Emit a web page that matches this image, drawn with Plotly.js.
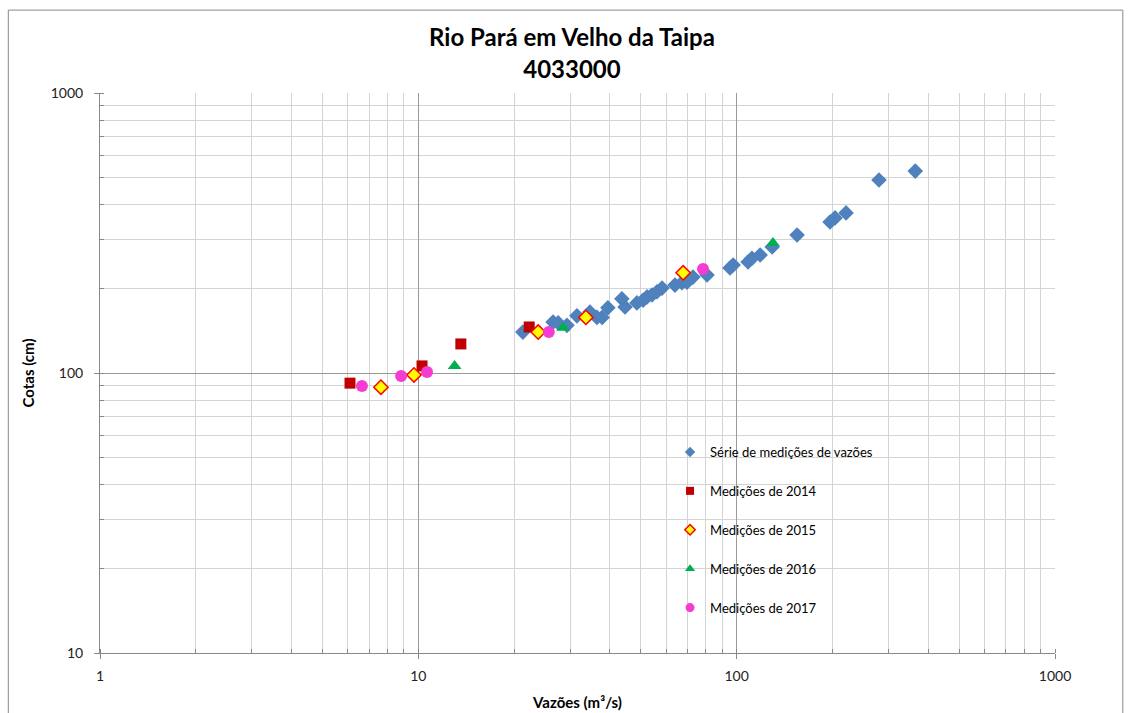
<!DOCTYPE html>
<html>
<head>
<meta charset="utf-8">
<script src="https://cdn.plot.ly/plotly-3.0.1.min.js"></script>
<style>html,body{margin:0;padding:0;background:#fff;}#chart{width:1131px;height:713px;}</style>
</head>
<body>
<div id="chart"></div>
<script>
// Série de medições de vazões
const serieQ = [21.3, 26.5, 27.5, 29.3, 31.5, 34.6, 36.4, 37.8, 39.4, 43.6, 44.6, 48.6, 50.8, 52.3, 54.2, 56.2, 58.3, 64.0, 67.3, 69.8, 72.9, 80.7, 95.3, 97.5, 108.6, 111.7, 118.5, 129.3, 154.8, 196.5, 203.7, 220.6, 280, 364];
const serieH = [140, 152, 151, 148, 160, 165, 158, 158, 171, 184, 172, 178, 182, 187, 190, 195, 201, 206, 210, 211, 220, 224, 237, 243, 249, 257, 264, 282, 311, 346, 358, 373, 489, 526];
// Medições de 2014
const q2014 = [6.10, 10.27, 13.6, 22.3];
const h2014 = [92, 106, 127, 146];
// Medições de 2015
const q2015 = [7.63, 9.69, 23.8, 33.6, 67.9];
const h2015 = [89, 98.4, 140, 158, 228];
// Medições de 2016
const q2016 = [13.0, 28.5, 130];
const h2016 = [106, 145, 291];
// Medições de 2017
const q2017 = [6.65, 8.83, 10.65, 25.7, 78.4];
const h2017 = [89.9, 97.5, 100.8, 140, 235];

const names = ['Série de medições de vazões', 'Medições de 2014', 'Medições de 2015', 'Medições de 2016', 'Medições de 2017'];

const styles = [
  {symbol: 'diamond', color: '#4F81BD'},
  {symbol: 'square', color: '#C00000'},
  {symbol: 'diamond', color: '#FFFF00', line: {color: '#FF0000', width: 1.5}},
  {symbol: 'triangle-up', color: '#00B050'},
  {symbol: 'circle', color: '#F43CD2'}
];
const sizes = [12, 11, 11, 12, 12];
const legSizes = [8, 8, 8, 9, 9];
const xs = [serieQ, q2014, q2015, q2016, q2017];
const ys = [serieH, h2014, h2015, h2016, h2017];

const traces = [];
for (let i = 0; i < 5; i++) {
  traces.push({x: xs[i], y: ys[i], name: names[i], mode: 'markers', type: 'scatter', showlegend: false,
    marker: Object.assign({}, styles[i], {size: sizes[i]})});
}
for (let i = 0; i < 5; i++) {
  traces.push({x: [null], y: [null], name: names[i], legendgroup: 'g' + i, mode: 'markers', type: 'scatter',
    marker: Object.assign({}, styles[i], {size: legSizes[i]})});
}

const fontFam = 'Lato, "Open Sans", "Liberation Sans", sans-serif';

const layout = {
  width: 1131, height: 713,
  margin: {l: 100, r: 76, t: 93, b: 60},
  paper_bgcolor: '#fff', plot_bgcolor: '#fff',
  font: {family: fontFam, color: '#000', size: 13},
  title: {text: '<b>Rio Pará em Velho da Taipa<br>4033000</b>', xref: 'container', x: 0.5057, xanchor: 'center',
          yref: 'container', y: 0.935, yanchor: 'top',
          font: {size: 24, family: fontFam, color: '#000'}},
  xaxis: {type: 'log', range: [0, 3], dtick: 1, showgrid: true, gridcolor: '#9a9a9a', gridwidth: 1,
          ticks: 'outside', ticklen: 5, tickcolor: '#888', showline: true, linecolor: '#888', linewidth: 1,
          zeroline: false, tickfont: {size: 14, color: '#222'}, ticklabelstandoff: 5,
          minor: {dtick: 'D1', showgrid: true, gridcolor: '#d4d4d4', gridwidth: 1, ticks: 'inside', ticklen: 4, tickcolor: '#888'},
          title: {text: '<b>Vazões (m³/s)</b>', font: {size: 15}, standoff: 14}},
  yaxis: {type: 'log', range: [1, 3], dtick: 1, showgrid: true, gridcolor: '#9a9a9a', gridwidth: 1,
          ticks: 'outside', ticklen: 5, tickcolor: '#888', showline: true, linecolor: '#888', linewidth: 1,
          zeroline: false, tickfont: {size: 14, color: '#222'}, ticklabelstandoff: 8,
          minor: {dtick: 'D1', showgrid: true, gridcolor: '#d4d4d4', gridwidth: 1, ticks: 'inside', ticklen: 4, tickcolor: '#888'},
          title: {text: '<b>Cotas (cm)</b>', font: {size: 15}, standoff: 12}},
  legend: {x: 0.5969, y: 0.3857, xanchor: 'left', yanchor: 'top', bgcolor: 'rgba(0,0,0,0)', borderwidth: 0,
           font: {size: 13, family: fontFam, color: '#000'}, tracegroupgap: 19},
  showlegend: true,
  shapes: [
    {type: 'rect', xref: 'paper', yref: 'paper', x0: -0.096, x1: 1.071, y0: -0.12, y1: 1.148,
     line: {color: '#888', width: 1}, fillcolor: 'rgba(0,0,0,0)', layer: 'below'},
    {type: 'rect', xref: 'paper', yref: 'paper', x0: 0.6147, x1: 0.8168, y0: 0.0446, y1: 0.3946,
     line: {width: 0}, fillcolor: '#fff', layer: 'between'}
  ]
};

Plotly.newPlot('chart', traces, layout, {displayModeBar: false, staticPlot: true});
</script>
</body>
</html>
